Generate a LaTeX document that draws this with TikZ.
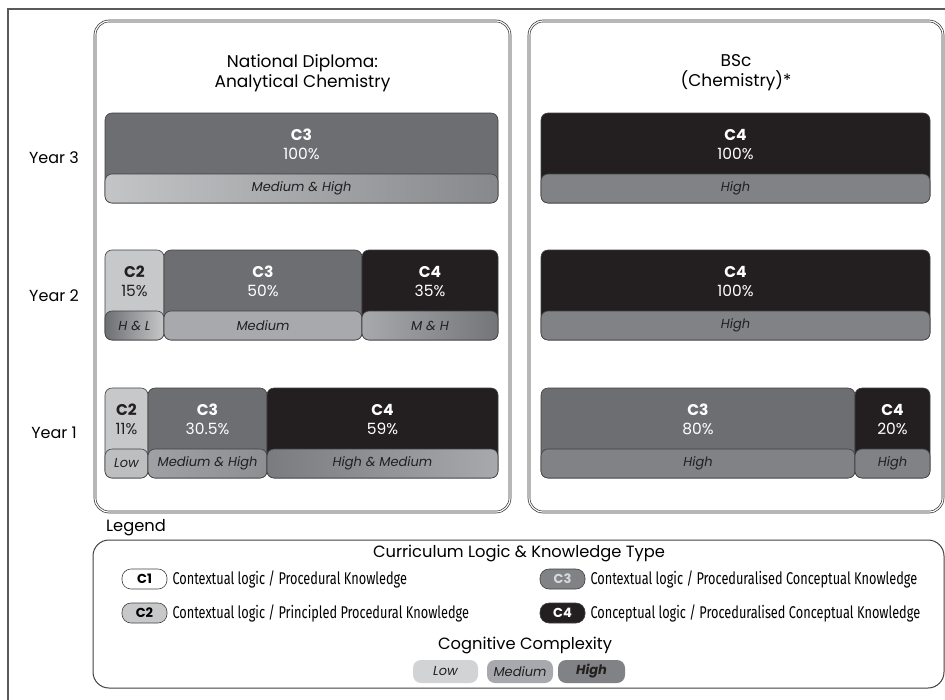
\documentclass[tikz,border=0pt]{standalone}
\usepackage{fontspec}
\setmainfont{Poppins}
\newfontfamily\condfont[FakeStretch=0.75]{Fira Sans}
\usetikzlibrary{calc}

\definecolor{cTwo}{HTML}{C7C8CA}
\definecolor{cThree}{HTML}{6D6E71}
\definecolor{cFour}{HTML}{231F20}
\definecolor{bandLow}{HTML}{BCBEC0}
\definecolor{bandMed}{HTML}{A7A9AC}
\definecolor{bandHigh}{HTML}{808285}
\definecolor{segline}{HTML}{414042}
\definecolor{frameline}{HTML}{58595B}

% one coloured block of a year bar: body plus its complexity band
% #1 name, #2 left, #3 right, #4 top, #5 bottom, #6 body colour, #7 band fill options
\newcommand\barseg[7]{%
  \path[segbody, fill=#6] (#2,#4) rectangle (#3,#5);
  \path[segband, #7] (#2,#5-29) rectangle (#3,#5);
  \coordinate (#1-top) at ({(#2+#3)/2},#4);
  \coordinate (#1-band) at ({(#2+#3)/2},#5-14.5);
}
% texts of a block: #1 name, #2 text colour, #3 type, #4 share, #5 complexity
\newcommand\segtext[5]{%
  \node[seglabel, text=#2] (#1-lab) at ($(#1-top)+(0,22)$) {#3};
  \node[segpct, text=#2] (#1-pct) at ($(#1-top)+(0,41)$) {#4};
  \node[segbandtext] (#1-bt) at (#1-band) {#5};
}

\begin{document}
\begin{tikzpicture}[x=1pt,y=-1pt,
  frame/.style={draw=frameline, line width=1.2pt},
  panel/.style={draw=black!80, line width=0.7pt, double=white, double distance=1.2pt, rounded corners=14},
  paneltitle/.style={font=\fontsize{17}{20}\selectfont, align=center, inner sep=0pt},
  yearlbl/.style={font=\fontsize{16}{18}\selectfont, inner sep=0pt},
  segbody/.style={draw=segline, line width=0.6pt, rounded corners=7},
  segband/.style={draw=segline, line width=0.6pt, rounded corners=7},
  seglabel/.style={font=\bfseries\fontsize{15.5}{17}\selectfont, inner sep=0pt},
  segpct/.style={font=\fontsize{15.5}{17}\selectfont, inner sep=0pt},
  segbandtext/.style={font=\itshape\fontsize{13}{15}\selectfont, text=cFour, inner sep=0pt},
  legendbox/.style={draw=segline, line width=1pt, rounded corners=16},
  heading/.style={font=\fontsize{16.3}{19}\selectfont, inner sep=0pt},
  keypill/.style={draw=segline, line width=0.6pt, rounded corners=9, minimum width=45pt, minimum height=20pt, inner sep=0pt, font=\bfseries\fontsize{13}{15}\selectfont},
  keytext/.style={font=\condfont\fontsize{17}{19}\selectfont, anchor=west, inner sep=0pt},
  levelpill/.style={rounded corners=8, minimum height=23pt, inner sep=0pt, font=\itshape\fontsize{13}{15}\selectfont, text=cFour}
]
\useasboundingbox (0,0) rectangle (945,699);
\fill[white] (0,0) rectangle (945,699);

% outer frame (only top and left edges fall inside the page)
\draw[frame] (8,720) -- (8,9) -- (960,9);

% programme panels
\draw[panel] (95,21) rectangle (510,512);
\draw[panel] (529,21) rectangle (943,512);
\node[paneltitle] (ndtitle) at (302.5,73) {National Diploma:\\Analytical Chemistry};
\node[paneltitle] (bsctitle) at (736,73) {BSc\\(Chemistry)*};

% year labels
\node[yearlbl] (y3) at (54,158) {Year 3};
\node[yearlbl] (y2) at (54,296) {Year 2};
\node[yearlbl] (y1) at (54,433) {Year 1};

% Year 3
\barseg{ndthree}{105}{498}{113}{203}{cThree}{left color=bandLow!90!white, right color=bandHigh!95!white}
\segtext{ndthree}{white}{C3}{100\%}{Medium \& High}
\barseg{bsthree}{541}{930}{113}{203}{cFour}{fill=bandHigh}
\segtext{bsthree}{white}{C4}{100\%}{High}

% Year 2
\barseg{ndtwoa}{105}{164}{250}{340}{cTwo}{left color=cThree, right color=cTwo}
\segtext{ndtwoa}{cFour}{C2}{15\%}{H \& L}
\barseg{ndtwob}{164}{362}{250}{340}{cThree}{fill=bandMed}
\segtext{ndtwob}{white}{C3}{50\%}{Medium}
\barseg{ndtwoc}{362}{498}{250}{340}{cFour}{left color=bandMed, right color=bandHigh!90!black}
\segtext{ndtwoc}{white}{C4}{35\%}{M \& H}
\barseg{bstwo}{541}{930}{250}{340}{cFour}{fill=bandHigh}
\segtext{bstwo}{white}{C4}{100\%}{High}

% Year 1
\barseg{ndonea}{105}{148}{388}{478}{cTwo}{fill=bandLow}
\segtext{ndonea}{cFour}{C2}{11\%}{Low}
\barseg{ndoneb}{148}{267}{388}{478}{cThree}{left color=bandMed!95!black, right color=bandHigh!90!white}
\segtext{ndoneb}{white}{C3}{30.5\%}{Medium \& High}
\barseg{ndonec}{267}{498}{388}{478}{cFour}{left color=bandHigh!95!black, right color=bandMed}
\segtext{ndonec}{white}{C4}{59\%}{High \& Medium}
\barseg{bsonea}{541}{855}{388}{478}{cThree}{fill=bandHigh}
\segtext{bsonea}{white}{C3}{80\%}{High}
\barseg{bsoneb}{855}{930}{388}{478}{cFour}{fill=bandHigh}
\segtext{bsoneb}{white}{C4}{20\%}{High}

% legend
\node[heading, anchor=west] (legendlbl) at (106,528) {Legend};
\draw[legendbox] (93,540) rectangle (944,688);
\node[heading] (cltitle) at (519,553) {Curriculum Logic \& Knowledge Type};

\node[keypill, fill=white] (kone) at (144.5,579) {C1};
\node[keytext] (konet) at ($(kone.east)+(5,0)$) {Contextual logic / Procedural Knowledge};
\node[keypill, fill=cTwo] (ktwo) at (144.5,613) {C2};
\node[keytext] (ktwot) at ($(ktwo.east)+(5,0)$) {Contextual logic / Principled Procedural Knowledge};
\node[keypill, fill=bandHigh, text=cTwo!70!white] (kthree) at (562.5,579) {C3};
\node[keytext] (kthreet) at ($(kthree.east)+(5,0)$) {Contextual logic / Proceduralised Conceptual Knowledge};
\node[keypill, fill=cFour, text=white] (kfour) at (562.5,613) {C4};
\node[keytext] (kfourt) at ($(kfour.east)+(5,0)$) {Conceptual logic / Proceduralised Conceptual Knowledge};

\node[heading] (cctitle) at (525,645) {Cognitive Complexity};
\node[levelpill, fill=cTwo!80!white, minimum width=65pt] (lvlow) at (445.5,671.5) {Low};
\node[levelpill, fill=bandMed, minimum width=66pt] (lvmed) at (520,671.5) {Medium};
\node[levelpill, fill=bandHigh, minimum width=67pt, font=\bfseries\itshape\fontsize{13}{15}\selectfont] (lvhigh) at (591.5,671.5) {High};
\end{tikzpicture}
\end{document}
